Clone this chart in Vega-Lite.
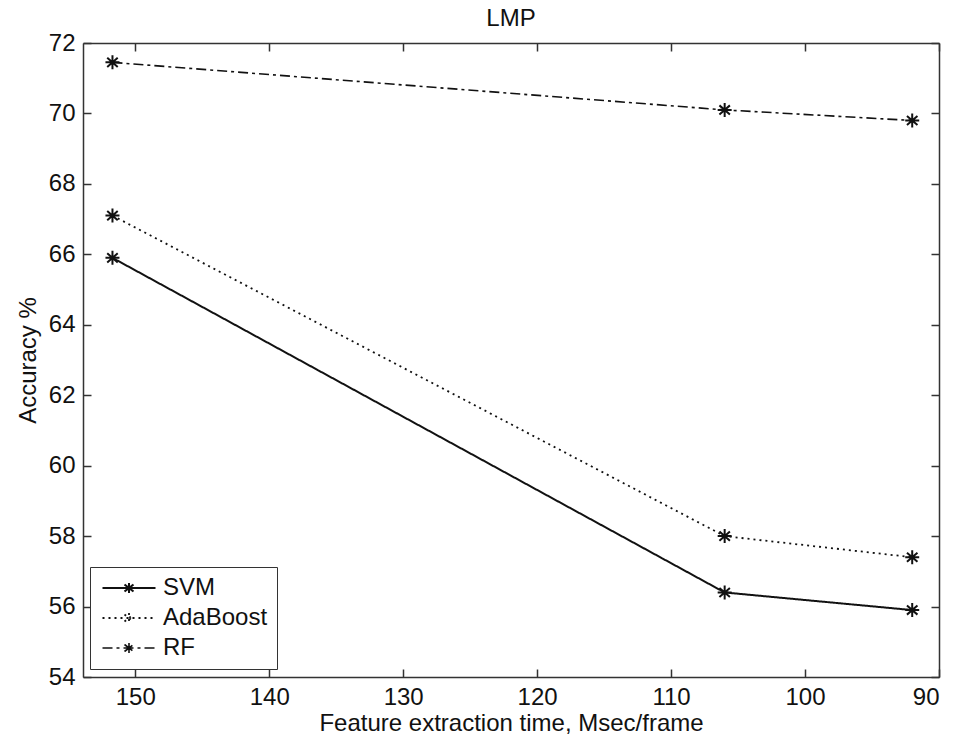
{
  "$schema": "https://vega.github.io/schema/vega-lite/v6.json",
  "autosize": "none",
  "width": 856,
  "height": 634,
  "padding": {"left": 83, "top": 43, "right": 29, "bottom": 63},
  "title": {"text": "LMP", "fontSize": 24, "fontWeight": "normal", "font": "Liberation Sans", "color": "#111", "offset": 0},
  "data": {"values": [
    {"time": 151.7, "acc": 65.9, "model": "SVM"},
    {"time": 106.0, "acc": 56.4, "model": "SVM"},
    {"time": 92.0, "acc": 55.9, "model": "SVM"},
    {"time": 151.7, "acc": 67.1, "model": "AdaBoost"},
    {"time": 106.0, "acc": 58.0, "model": "AdaBoost"},
    {"time": 92.0, "acc": 57.4, "model": "AdaBoost"},
    {"time": 151.7, "acc": 71.45, "model": "RF"},
    {"time": 106.0, "acc": 70.1, "model": "RF"},
    {"time": 92.0, "acc": 69.8, "model": "RF"}
  ]},
  "resolve": {"axis": {"x": "independent", "y": "independent"}},
  "layer": [
    {
      "mark": {"type": "line", "color": "#111"},
      "encoding": {
        "x": {"field": "time", "type": "quantitative",
          "scale": {"domain": [90, 153.9], "reverse": true, "nice": false, "zero": false},
          "axis": {"title": "Feature extraction time, Msec/frame", "values": [150, 140, 130, 120, 110, 100, 90], "grid": false}},
        "y": {"field": "acc", "type": "quantitative",
          "scale": {"domain": [54, 72], "nice": false, "zero": false},
          "axis": {"title": "Accuracy %", "values": [54, 56, 58, 60, 62, 64, 66, 68, 70, 72], "grid": false}},
        "strokeWidth": {"field": "model", "type": "nominal",
          "scale": {"domain": ["SVM", "AdaBoost", "RF"], "range": [2, 1.6, 2.6]}, "legend": null},
        "strokeDash": {"field": "model", "type": "nominal",
          "scale": {"domain": ["SVM", "AdaBoost", "RF"], "range": [[1, 0], [2, 4], [10, 4, 3, 4]]},
          "legend": {
            "title": null, "orient": "none", "legendX": 7, "legendY": 524,
            "symbolType": "M-2.65,0H2.65M0,-0.5V0.5M-0.45,-0.35L0.45,0.35M-0.45,0.35L0.45,-0.35",
            "symbolSize": 400, "symbolOffset": 18, "symbolStrokeColor": "#111", "symbolStrokeWidth": 1.8,
            "labelFontSize": 24, "labelFont": "Liberation Sans", "labelColor": "#111", "labelOffset": 22,
            "rowPadding": 6, "padding": 9, "strokeColor": "#333", "fillColor": "white"
          }}
      }
    },
    {
      "mark": {"type": "point", "shape": "M-1,0H1M0,-1V1M-0.75,-0.65L0.75,0.65M-0.75,0.65L0.75,-0.65", "filled": false, "stroke": "#111", "strokeWidth": 2, "size": 196, "opacity": 1},
      "encoding": {
        "x": {"field": "time", "type": "quantitative",
          "axis": {"orient": "top", "labels": false, "title": null, "values": [150, 140, 130, 120, 110, 100, 90], "grid": false, "domain": true}},
        "y": {"field": "acc", "type": "quantitative",
          "axis": {"orient": "right", "labels": false, "title": null, "values": [54, 56, 58, 60, 62, 64, 66, 68, 70, 72], "grid": false, "domain": true}}
      }
    }
  ],
  "config": {
    "view": {"stroke": null},
    "axis": {
      "domainColor": "#333", "domainWidth": 1.5, "tickColor": "#333", "tickWidth": 1.5, "tickSize": -8,
      "labelFont": "Liberation Sans", "labelFontSize": 24, "labelColor": "#111", "labelPadding": 16,
      "titleFont": "Liberation Sans", "titleFontSize": 24, "titleFontWeight": "normal", "titleColor": "#111"
    },
    "axisBottom": {"titlePadding": 2},
    "axisLeft": {"titlePadding": 8}
  }
}
